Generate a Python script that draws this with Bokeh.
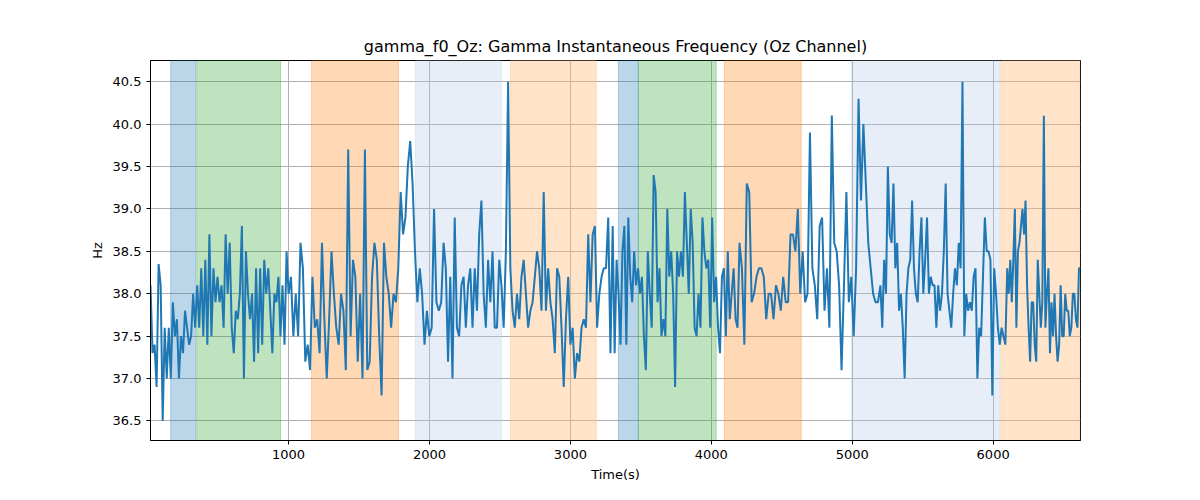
import numpy as np
from bokeh.plotting import figure
from bokeh.models import BoxAnnotation, Range1d, FixedTicker, NumeralTickFormatter
from bokeh.embed import file_html
from bokeh.resources import INLINE

seg_bounds = [20, 1000, 2100, 3300, 4200, 5200, 6100, 6620]
seg1 = [38.1,37.3,37.4,36.9,38.35,38.1,36.5,37.6,37.0,37.6,37.0,37.9,37.5,37.7,37.0,37.5,37.3,37.8,37.6,37.4,37.5,38.0,37.6,38.1,37.6,38.3,37.5,38.4,37.4,38.7,37.5,38.3,37.9,38.2,37.9,38.1,37.6,38.7,38.0,38.6,37.6,37.3,37.8,37.7,38.0,38.8,37.0,38.5,38.0,37.7,38.0,37.2,38.3,37.3,38.3,37.4,38.4,38.0,38.3,37.8,37.3,38.0,37.9,38.2,37.5,38.1,37.4,38.5]
seg2 = [38.0,38.2,37.5,38.0,37.5,38.6,38.3,37.2,37.4,37.1,38.2,37.6,37.7,37.3,38.6,37.7,37.0,37.7,38.5,38.0,37.6,37.4,38.0,37.8,37.1,39.7,37.5,38.4,38.2,37.2,38.0,37.0,39.7,37.1,37.2,38.2,38.6,38.4,37.5,36.8,38.6,38.2,38.0,37.6,38.0,37.9,38.3,39.2,38.7,38.9,39.5,39.8,39.3,38.5,37.9,38.3,38.0,37.4,37.8,37.5,37.6,39.0,37.9,37.8,37.9]
seg3 = [38.6,38.3,37.2,38.2,37.0,38.9,37.6,37.5,38.1,38.2,37.6,38.1,38.3,37.6,38.3,37.8,38.7,39.1,38.0,37.6,38.4,37.9,38.5,37.6,37.6,38.4,38.1,37.6,38.5,40.5,38.3,37.8,37.6,38.0,37.7,38.2,38.4,38.0,37.6,37.8,37.9,38.2,38.5,38.3,37.8,39.2,37.8,38.3,37.9,37.7,37.3,38.3,38.2,37.6,36.9,37.7,38.2,37.4,37.6,37.0,37.3,37.2,37.6,37.7,37.6,38.7,37.9,38.7,38.8,37.6,38.0,38.2,38.3,38.3,38.9,37.3]
seg4 = [38.8,37.3,38.4,38.0,37.4,38.5,38.8,37.4,38.9,38.2,37.9,38.5,38.1,38.3,38.0,38.2,37.5,37.1,38.5,38.0,37.6,39.4,39.2,37.9,38.3,37.5,37.7,37.5,39.0,38.2,38.5,38.0,36.9,38.5,38.2,38.5,38.2,39.2,38.6,38.0,39.0,38.6,37.6,37.5,38.0,37.6,38.9,38.5,38.3,38.4,37.6,38.9,37.9,38.2,37.6,37.3,38.2,38.3,37.5,38.5,37.7,38.0,38.3,37.7,37.6]
seg5 = [38.6,38.3,37.4,39.3,39.2,37.9,38.0,38.2,38.3,38.3,38.2,37.7,38.0,38.0,37.7,38.1,38.0,37.8,38.2,37.9,37.9,38.7,38.7,38.5,39.0,38.0,38.5,37.9,38.0,39.9,38.3,38.1,37.7,38.8,38.9,37.8,38.3,37.6,40.1,38.6,38.5,38.1,37.1,38.1,39.2,37.9,38.2,37.5,38.3,40.3,39.1,40.0,39.3,38.6,38.3,38.0,37.9,37.9]
seg6 = [38.1,37.6,38.4,38.0,39.5,38.7,38.6,39.3,38.3,38.6,37.8,38.0,37.6,37.0,38.0,38.3,38.4,39.1,38.3,38.0,37.9,38.5,38.9,38.0,38.4,38.9,38.0,38.2,38.1,38.1,37.6,38.1,37.8,38.0,38.5,39.3,38.0,37.8,37.6,38.0,38.3,38.1,38.6,38.3,40.5,37.5,38.0,37.8,37.9,37.8,38.2,38.3,37.0,37.6,37.5,38.2,38.9,38.5,38.5,38.4,36.8,38.3,38.0,37.6,37.4,37.6,37.5,37.4]
seg7 = [38.3,38.0,38.4,37.9,38.4,39.0,37.6,38.5,38.6,38.8,39.0,38.7,39.1,38.1,37.6,37.2,37.9,37.9,37.4,37.2,38.4,38.0,37.6,37.9,40.1,37.6,38.0,38.3,37.3,37.9,37.5,38.0,37.5,37.2,37.4,38.1,37.5,37.5,38.0,37.8,37.8,37.5,37.6,38.0,38.0,37.7,37.6,38.3]
segments = [seg1, seg2, seg3, seg4, seg5, seg6, seg7]

span_start = [163, 348, 1163, 1900, 2575, 3340, 3482, 4092, 4993, 6057]
span_end   = [340, 943, 1780, 2511, 3184, 3482, 4035, 4638, 6050, 6617]
span_color = ["#1f77b4", "#2ca02c", "#ff7f0e", "#aec7e8", "#ffbb78", "#1f77b4", "#2ca02c", "#ff7f0e", "#aec7e8", "#ffbb78"]
span_alpha = [0.3, 0.3, 0.3, 0.3, 0.4, 0.3, 0.3, 0.3, 0.3, 0.4]

xs, ys = [], []
for i, s in enumerate(segments):
    a, b = seg_bounds[i], seg_bounds[i + 1]
    n = len(s)
    xs.extend(a + (b - a) * np.arange(n) / n)
    ys.extend(s)
xs.append(seg_bounds[-1]); ys.append(segments[-1][-1])

p = figure(width=1184, height=484, output_backend="svg", toolbar_location=None,
           title="gamma_f0_Oz: Gamma Instantaneous Frequency (Oz Channel)",
           x_range=Range1d(20, 6620), y_range=Range1d(36.27, 40.75),
           min_border_left=150, min_border_right=104, min_border_top=60, min_border_bottom=39)
p.title.align = "center"
p.title.text_font_style = "normal"
p.title.text_font_size = "16px"
p.title.text_font = "DejaVu Sans"
p.title.text_color = "black"

for s, e, c, a in zip(span_start, span_end, span_color, span_alpha):
    p.add_layout(BoxAnnotation(left=s, right=e, fill_color=c, fill_alpha=a, line_color=c, line_alpha=a, level="underlay"))

p.line(xs, ys, line_color="#1f77b4", line_width=2)

p.xaxis.ticker = FixedTicker(ticks=[1000, 2000, 3000, 4000, 5000, 6000])
p.yaxis.ticker = FixedTicker(ticks=[36.5, 37, 37.5, 38, 38.5, 39, 39.5, 40, 40.5])
p.yaxis.formatter = NumeralTickFormatter(format="0.0")
p.xaxis.axis_label = "Time(s)"
p.yaxis.axis_label = "Hz"
for ax in (p.xaxis, p.yaxis):
    ax.axis_label_text_font_style = "normal"
    ax.axis_label_text_font_size = "13px"
    ax.axis_label_text_font = "DejaVu Sans"
    ax.axis_label_text_color = "black"
    ax.major_label_text_font_size = "13px"
    ax.major_label_text_font = "DejaVu Sans"
    ax.major_label_text_color = "black"
    ax.minor_tick_line_color = None
    ax.major_tick_out = 4
    ax.major_tick_in = 0
p.grid.grid_line_color = "#b0b0b0"
p.grid.grid_line_width = 1
p.outline_line_color = "black"
p.outline_line_width = 1

open("out.html", "w").write(file_html(p, INLINE))
